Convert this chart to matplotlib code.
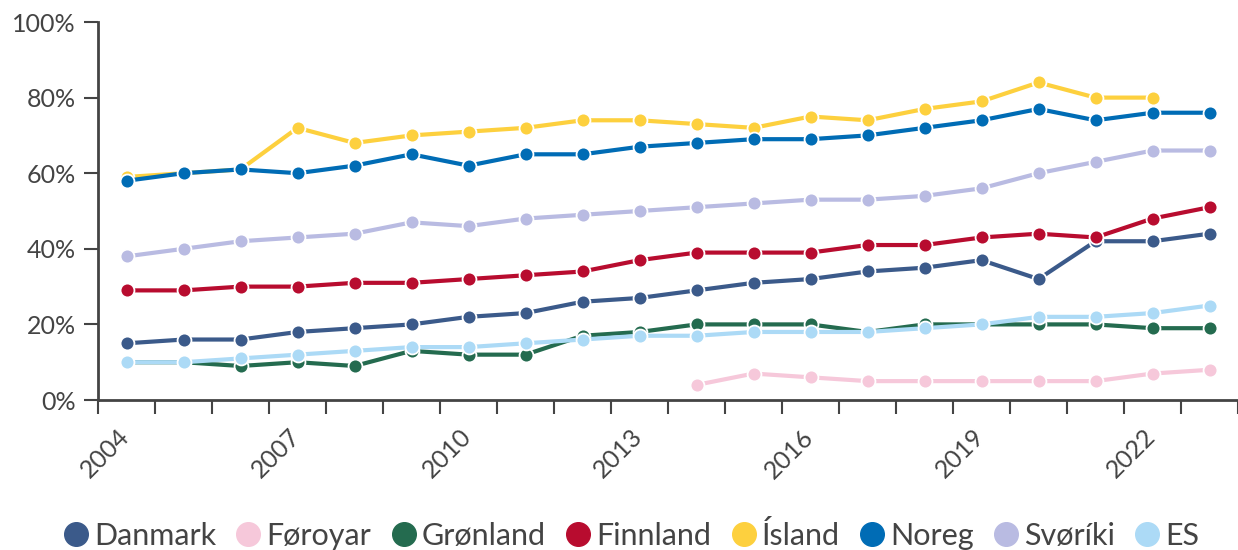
import numpy as np
import matplotlib.pyplot as plt
import matplotlib.transforms as mtransforms
from matplotlib.lines import Line2D
from matplotlib.ticker import FuncFormatter, MultipleLocator

# ---------------------------------
# Data (share in %, one value per year)
# ---------------------------------
years = np.arange(2004, 2024)

danmark = [15, 16, 16, 18, 19, 20, 22, 23, 26, 27, 29, 31, 32, 34, 35, 37, 32, 42, 42, 44]
foroyar_years = np.arange(2014, 2024)
foroyar = [4, 7, 6, 5, 5, 5, 5, 5, 7, 8]
gronland = [10, 10, 9, 10, 9, 13, 12, 12, 17, 18, 20, 20, 20, 18, 20, 20, 20, 20, 19, 19]
finnland = [29, 29, 30, 30, 31, 31, 32, 33, 34, 37, 39, 39, 39, 41, 41, 43, 44, 43, 48, 51]
island_years = np.arange(2004, 2023)
island = [59, 60, 61, 72, 68, 70, 71, 72, 74, 74, 73, 72, 75, 74, 77, 79, 84, 80, 80]
noreg = [58, 60, 61, 60, 62, 65, 62, 65, 65, 67, 68, 69, 69, 70, 72, 74, 77, 74, 76, 76]
sveriki = [38, 40, 42, 43, 44, 47, 46, 48, 49, 50, 51, 52, 53, 53, 54, 56, 60, 63, 66, 66]
es = [10, 10, 11, 12, 13, 14, 14, 15, 16, 17, 17, 18, 18, 18, 19, 20, 22, 22, 23, 25]

labels = ["Danmark", "Føroyar", "Grønland", "Finnland", "Ísland", "Noreg", "Svøríki", "ES"]
colors = ["#3b5a8a", "#f6c8da", "#246b4f", "#b80c2f", "#fdd03e", "#006cb5", "#b9bbe2", "#acdaf6"]

series = [
    (years, danmark),
    (foroyar_years, foroyar),
    (years, gronland),
    (years, finnland),
    (island_years, island),
    (years, noreg),
    (years, sveriki),
    (years, es),
]

# ---------------------------------
# Plot
# ---------------------------------
plt.rcParams['font.family'] = ['Lato', 'DejaVu Sans']
text_col = "#444444"

fig = plt.figure(figsize=(12.38, 5.5), dpi=100)
ax = fig.add_axes([0.0792, 0.2727, 0.9208, 0.6873])

# draw order: last in legend ends up below, roughly as in the reference
order = [7, 6, 1, 2, 0, 3, 4, 5]
for i in order:
    xs, ys = series[i]
    ax.plot(xs + 0.5, ys, color=colors[i], lw=3, marker='o', ms=10,
            markeredgecolor='white', markeredgewidth=1.3, zorder=3 + i * 0.1)

ax.set_xlim(2004, 2024)
ax.set_ylim(0, 100)
ax.xaxis.set_major_locator(MultipleLocator(1))
ax.xaxis.set_major_formatter(FuncFormatter(lambda v, p: f"{int(v)}" if (int(v) - 2004) % 3 == 0 else ""))
ax.yaxis.set_major_locator(MultipleLocator(20))
ax.yaxis.set_major_formatter(FuncFormatter(lambda v, p: f"{int(v)}%"))

for s in ["top", "right"]:
    ax.spines[s].set_visible(False)
for s in ["left", "bottom"]:
    ax.spines[s].set_color(text_col)
    ax.spines[s].set_linewidth(2)

ax.tick_params(axis='both', colors=text_col, width=1.5, length=10, labelsize=18, labelcolor=text_col)
ax.tick_params(axis='y', pad=6)
ax.tick_params(axis='x', pad=8)

# rotated year labels, nudged a bit to the right of their tick
shift = mtransforms.ScaledTranslation(7 / 100, 0, fig.dpi_scale_trans)
for lab in ax.get_xticklabels():
    lab.set_rotation(45)
    lab.set_ha('center')
    lab.set_transform(lab.get_transform() + shift)

handles = [Line2D([], [], ls='none', marker='o', ms=17, color=c) for c in colors]
fig.legend(handles, labels, loc='center', bbox_to_anchor=(0.509, 0.027), ncol=8,
           frameon=False, fontsize=22, handletextpad=0.1, columnspacing=0.55,
           labelcolor=text_col, handlelength=1.0)

fig.savefig("out.png", dpi=100)
